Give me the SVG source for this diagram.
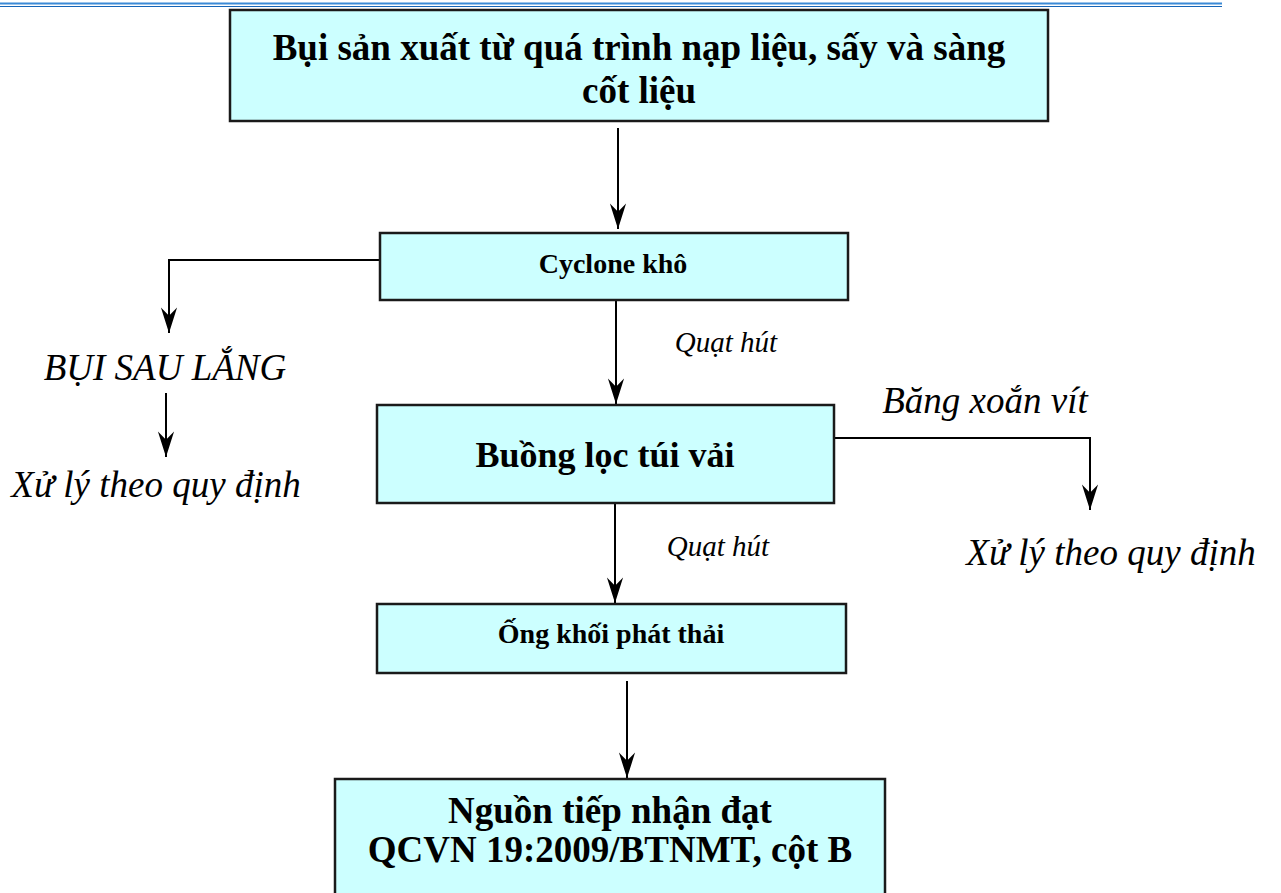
<svg xmlns="http://www.w3.org/2000/svg" width="1281" height="893" viewBox="0 0 1281 893">
<defs>
<style>
.box{fill:#ccffff;stroke:#1a1a1a;stroke-width:2.5}
.b{font-family:"Liberation Serif","Times New Roman",serif;font-weight:bold;fill:#000;text-anchor:middle}
.i{font-family:"Liberation Serif","Times New Roman",serif;font-style:italic;fill:#000;text-anchor:middle}
.c{fill:none;stroke:#000;stroke-width:2}
</style>
<marker id="ah" markerUnits="userSpaceOnUse" markerWidth="30" markerHeight="30" viewBox="-24 -10 26 20" refX="0" refY="0" orient="auto">
<path d="M0,0 L-22,-7 L-15,0 L-22,7 Z" fill="#000"/>
</marker>
</defs>
<g id="header-line">
<line x1="0" y1="3.5" x2="1222" y2="3.5" stroke="#3b8ad6" stroke-width="2.2"/>
<line x1="0" y1="6.5" x2="1222" y2="6.5" stroke="#1565b8" stroke-width="1.2"/>
</g>
<g id="connectors">
<line class="c" x1="618" y1="128" x2="618" y2="229" marker-end="url(#ah)"/>
<polyline class="c" points="380,260 169,260 169,333" marker-end="url(#ah)"/>
<line class="c" x1="616" y1="301" x2="616" y2="404" marker-end="url(#ah)"/>
<line class="c" x1="166" y1="393" x2="166" y2="457" marker-end="url(#ah)"/>
<polyline class="c" points="834,438 1090,438 1090,510" marker-end="url(#ah)"/>
<line class="c" x1="615" y1="504" x2="615" y2="603" marker-end="url(#ah)"/>
<line class="c" x1="627" y1="681" x2="627" y2="778" marker-end="url(#ah)"/>
</g>
<g id="node-source">
<rect class="box" x="230" y="10" width="818" height="111"/>
<text class="b" x="639" y="60" font-size="37">Bụi sản xuất từ quá trình nạp liệu, sấy và sàng</text>
<text class="b" x="639" y="103" font-size="37">cốt liệu</text>
</g>
<g id="node-cyclone">
<rect class="box" x="380" y="233" width="468" height="67"/>
<text class="b" x="613" y="273" font-size="28">Cyclone khô</text>
</g>
<g id="node-bui-sau-lang">
<text class="i" x="165" y="380" font-size="37">BỤI SAU LẮNG</text>
</g>
<g id="node-xu-ly-left">
<text class="i" x="156" y="497" font-size="37">Xử lý theo quy định</text>
</g>
<g id="node-buong-loc">
<rect class="box" x="377" y="405" width="457" height="98"/>
<text class="b" x="605" y="467" font-size="36">Buồng lọc túi vải</text>
</g>
<g id="label-quat-hut-1">
<text class="i" x="726" y="352" font-size="29">Quạt hút</text>
</g>
<g id="label-bang-xoan-vit">
<text class="i" x="985" y="413" font-size="37">Băng xoắn vít</text>
</g>
<g id="node-xu-ly-right">
<text class="i" x="1111" y="565" font-size="37">Xử lý theo quy định</text>
</g>
<g id="label-quat-hut-2">
<text class="i" x="718" y="556" font-size="29">Quạt hút</text>
</g>
<g id="node-ong-khoi">
<rect class="box" x="377" y="604" width="469" height="69"/>
<text class="b" x="611" y="643" font-size="28">Ống khối phát thải</text>
</g>
<g id="node-nguon-tiep-nhan">
<rect class="box" x="335" y="779" width="550" height="130"/>
<text class="b" x="610" y="823" font-size="37">Nguồn tiếp nhận đạt</text>
<text class="b" x="610" y="862" font-size="37">QCVN 19:2009/BTNMT, cột B</text>
</g>
</svg>
